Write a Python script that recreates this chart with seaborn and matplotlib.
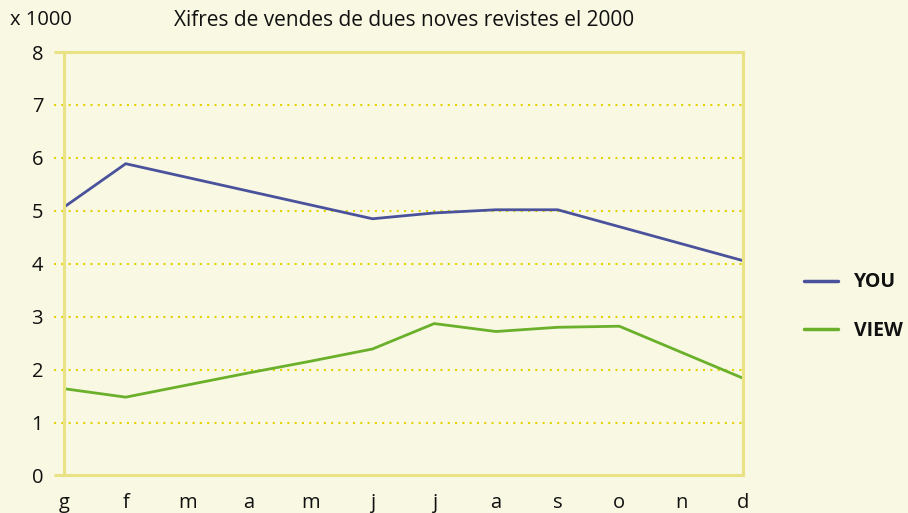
import pandas as pd
import matplotlib.pyplot as plt
import seaborn as sns

# sales figures (x 1000)
months = ['g', 'f', 'm', 'a', 'm', 'j', 'j', 'a', 's', 'o', 'n', 'd']
you_sales = [5.07, 5.89, 5.63, 5.37, 5.11, 4.85, 4.96, 5.02, 5.02, 4.70, 4.38, 4.06]
view_sales = [1.64, 1.48, 1.71, 1.94, 2.16, 2.39, 2.87, 2.72, 2.80, 2.82, 2.33, 1.84]

bg = '#F9F8E3'
edge = '#E9E385'
dots = '#E2D300'
ink = '#111111'
colors = {'YOU': '#4A529C', 'VIEW': '#6AB02A'}

sns.set_theme(style='white')
plt.rcParams['font.family'] = ['Open Sans', 'DejaVu Sans']
plt.rcParams['text.color'] = ink
plt.rcParams['xtick.labelcolor'] = ink
plt.rcParams['ytick.labelcolor'] = ink

df = pd.DataFrame({
    'mes': list(range(len(months))) * 2,
    'vendes': you_sales + view_sales,
    'revista': ['YOU'] * len(months) + ['VIEW'] * len(months),
})

fig = plt.figure(figsize=(9.08, 5.13), dpi=100, facecolor=bg)
ax = fig.add_axes([0.0705, 0.0731, 0.7475, 0.8255])
ax.set_facecolor(bg)

sns.lineplot(data=df, x='mes', y='vendes', hue='revista', palette=colors,
             linewidth=2.0, ax=ax)

ax.set_xlim(0, 11)
ax.set_ylim(0, 8)
ax.set_xticks(range(len(months)))
ax.set_xticklabels(months)
ax.set_yticks(range(0, 9))
ax.tick_params(axis='x', length=9, width=1.6, color=edge, pad=3.5, labelsize=14.5)
ax.tick_params(axis='y', length=0, pad=15, labelsize=14.5)
ax.set_xlabel('')
ax.set_ylabel('')

# short stubs to the left at 0 and 8
for yv in (0, 8):
    ax.plot([-0.16, 0], [yv, yv], color=edge, lw=2.2, clip_on=False,
            solid_capstyle='butt')

# dotted gridlines, also poking out past the left border
for yv in range(1, 8):
    ax.plot([-0.16, 11], [yv, yv], color=dots, lw=1.5, ls=(0, (1, 2.5)),
            zorder=0, clip_on=False)

for s in ax.spines.values():
    s.set_color(edge)
    s.set_linewidth(2.2)

fig.text(0.011, 0.961, 'x 1000', fontsize=14.5, va='center', ha='left')
fig.text(0.4445, 0.961, 'Xifres de vendes de dues noves revistes el 2000',
         fontsize=15, va='center', ha='center')

leg = ax.legend(loc='upper left', bbox_to_anchor=(0.866, 0.503),
                bbox_transform=fig.transFigure, frameon=False,
                handlelength=1.75, handletextpad=0.85, labelspacing=1.45,
                prop={'size': 14, 'weight': 'bold'})
for line in leg.get_lines():
    line.set_linewidth(2.5)

fig.savefig('out.png', dpi=100, facecolor=bg)
